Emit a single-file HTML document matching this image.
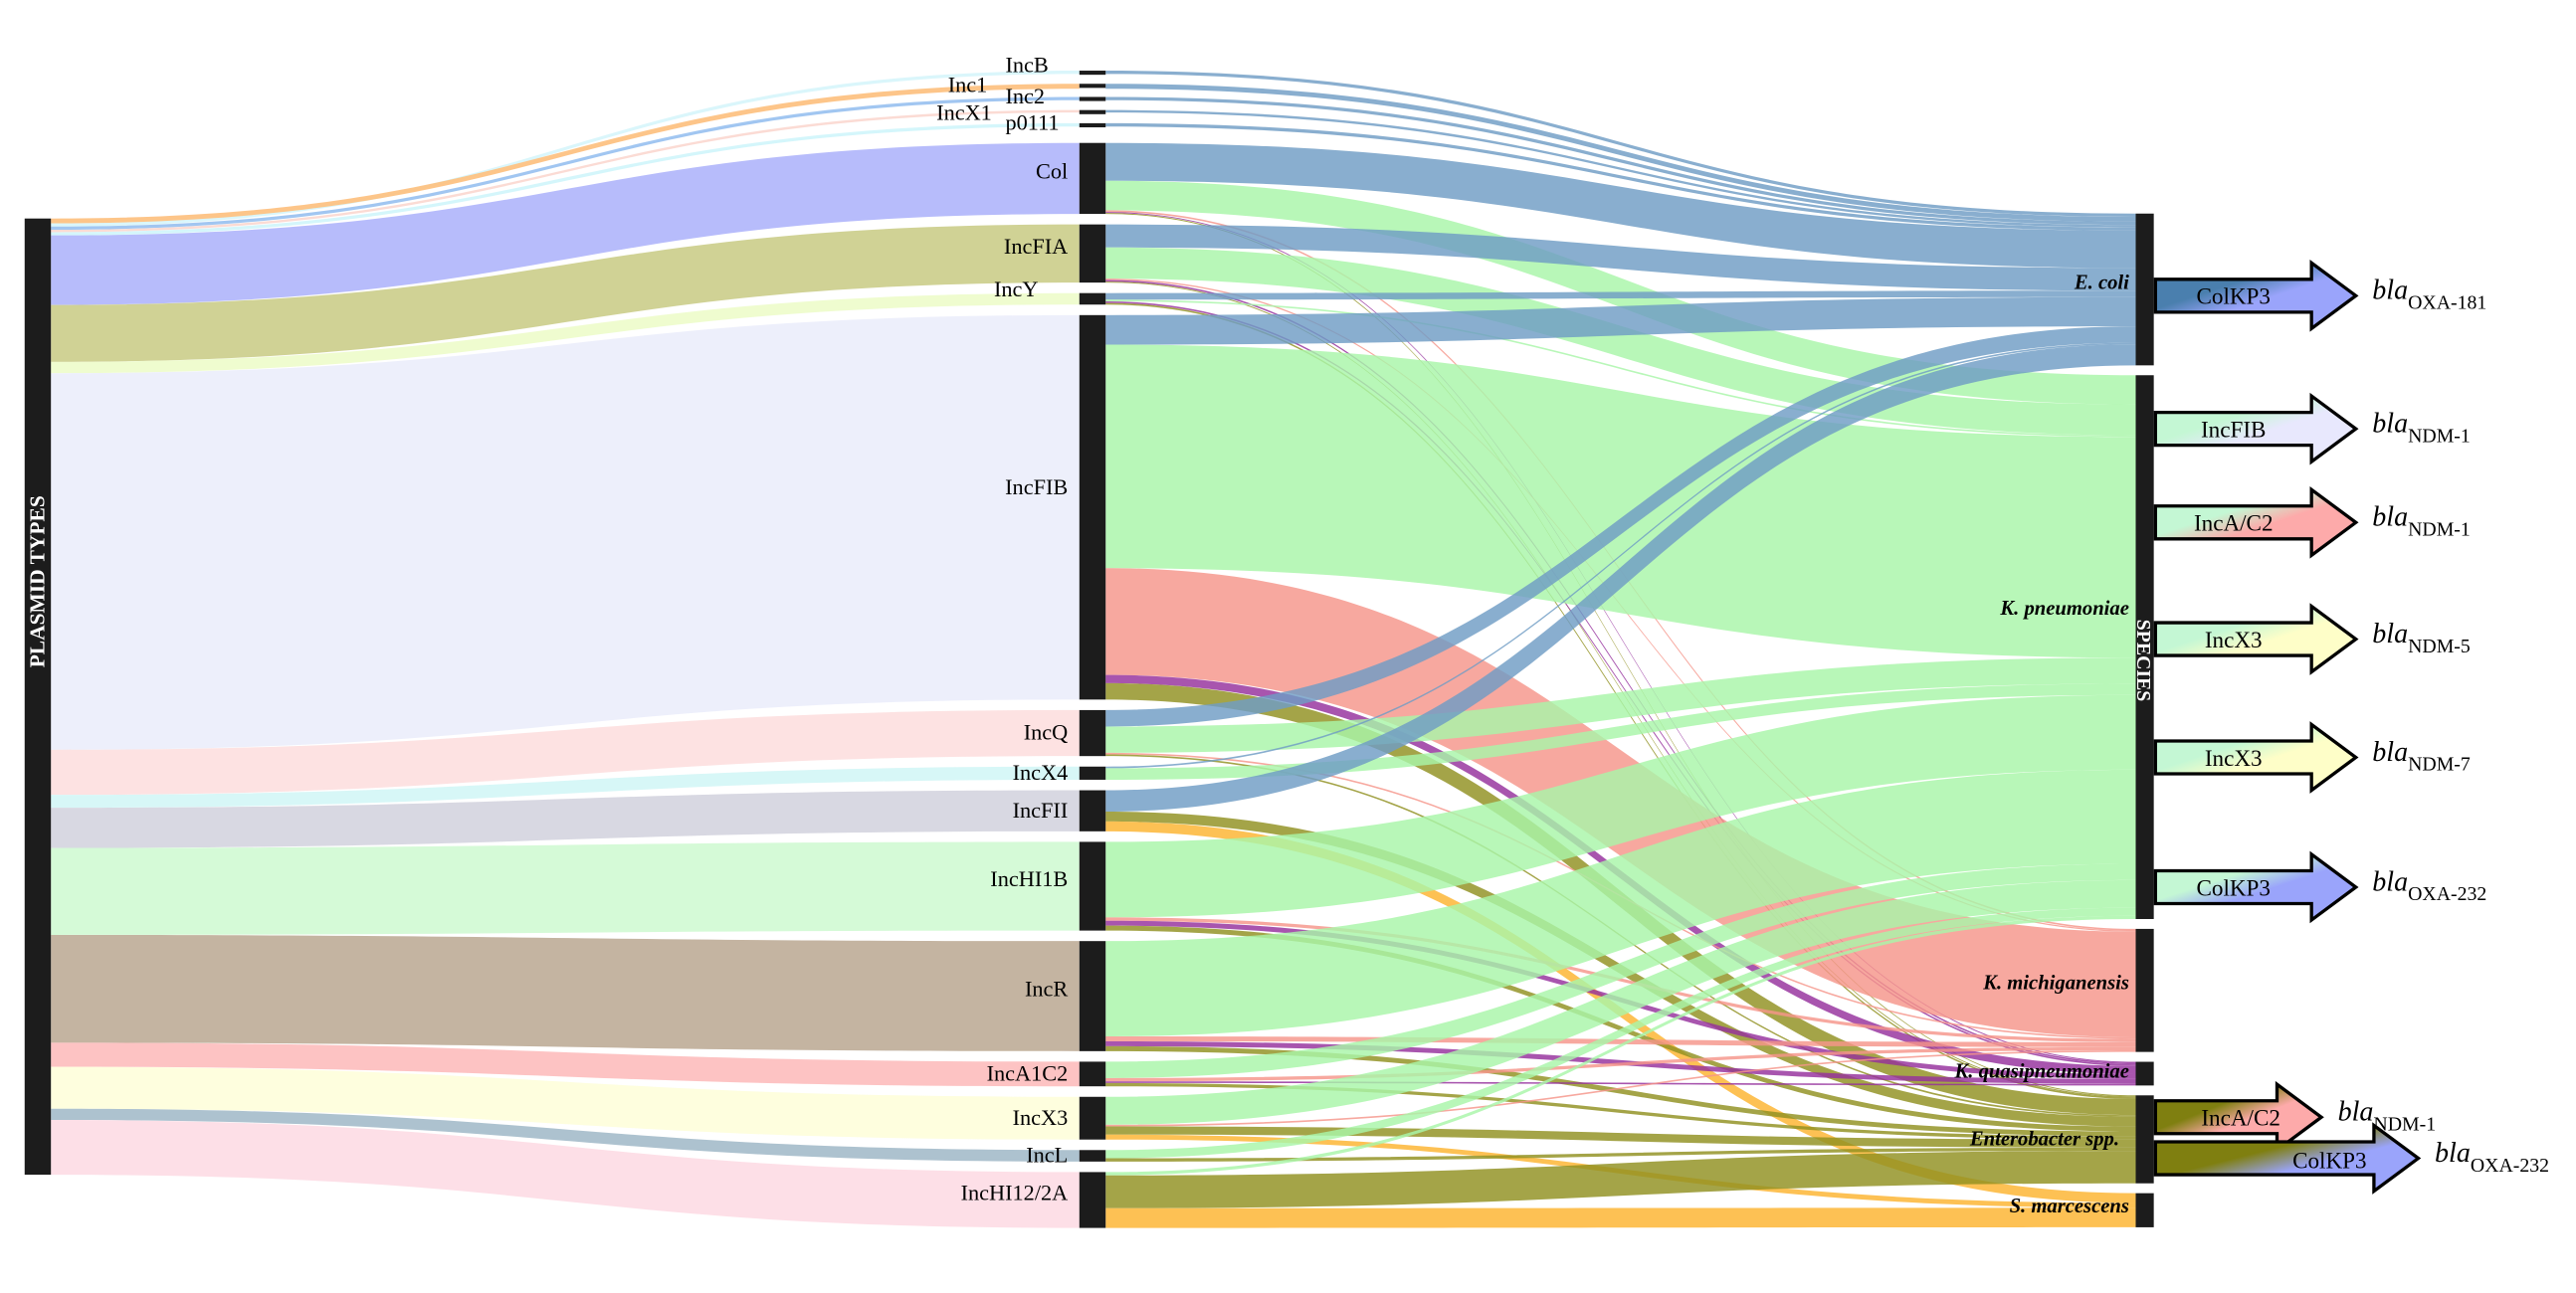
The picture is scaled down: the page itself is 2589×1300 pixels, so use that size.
<!DOCTYPE html>
<html><head><meta charset="utf-8"><style>
html,body{margin:0;padding:0;background:#fff;}
svg{display:block;font-family:"Liberation Serif",serif;}
</style></head><body>
<svg id="chart" width="2589" height="1300" viewBox="0 0 1568 787" preserveAspectRatio="none" xmlns="http://www.w3.org/2000/svg">
<defs>
<linearGradient id="gEcBlue" x1="0" y1="0" x2="1" y2="1"><stop offset="0.35" stop-color="#4a7fae"/><stop offset="0.55" stop-color="#9aa4fb"/></linearGradient>
<linearGradient id="gFib" x1="0" y1="0" x2="1" y2="1"><stop offset="0.35" stop-color="#c4f7d4"/><stop offset="0.55" stop-color="#e8e8fd"/></linearGradient>
<linearGradient id="gAC" x1="0" y1="0" x2="1" y2="1"><stop offset="0.35" stop-color="#c4f7d4"/><stop offset="0.55" stop-color="#fdaaaa"/></linearGradient>
<linearGradient id="gX3" x1="0" y1="0" x2="1" y2="1"><stop offset="0.35" stop-color="#c4f7d4"/><stop offset="0.55" stop-color="#fefec8"/></linearGradient>
<linearGradient id="gKcol" x1="0" y1="0" x2="1" y2="1"><stop offset="0.35" stop-color="#c4f7d4"/><stop offset="0.55" stop-color="#9aa4fb"/></linearGradient>
<linearGradient id="gEAC" x1="0" y1="0" x2="1" y2="1"><stop offset="0.35" stop-color="#7f7f10"/><stop offset="0.55" stop-color="#fdaaaa"/></linearGradient>
<linearGradient id="gECol" x1="0" y1="0" x2="1" y2="1"><stop offset="0.4" stop-color="#7f7f10"/><stop offset="0.6" stop-color="#9aa4fb"/></linearGradient>
</defs>
<g id="leftLinks"></g><g id="rightLinks"></g><g id="nodes"></g><g id="labels"></g><g id="genes"></g>
</svg>
<script>
const plasmids=["IncB","Inc1","Inc2","IncX1","p0111","Col","IncFIA","IncY","IncFIB","IncQ","IncX4","IncFII","IncHI1B","IncR","IncA1C2","IncX3","IncL","IncHI12/2A"];
const plasmidColors=["#d8f6fb","#fdc283","#9cc3f0","#fbd9d2","#d2f5fb","#b3b8fb","#cdd08f","#eefccc","#eceefb","#fde0e0","#d5f7f7","#d6d6e0","#d3fad5","#c1b09c","#fdc0c0","#fefedc","#a9bfcc","#fddde6"];
const species=["E. coli","K. pneumoniae","K. michiganensis","K. quasipneumoniae","Enterobacter spp.","S. marcescens"];
const speciesColors=["#6f9cc4","#a8f5a8","#f5958a","#952f9c","#909020","#fdb32e"];
// flows: source plasmid index, target species index, value
const flowSource=[0,1,2,3,4, 5,5,5,5,5, 6,6,6,6,6, 7,7,7,7, 8,8,8,8,8, 9,9,9,9, 10,10, 11,11,11, 12,12,12,12, 13,13,13,13, 14,14,14,14, 15,15,15,15, 16,16, 17,17,17];
const flowTarget=[0,0,0,0,0, 0,1,2,3,4, 0,1,2,3,4, 0,1,3,4, 0,1,2,3,4, 0,1,2,4, 0,1, 0,4,5, 1,2,3,4, 1,2,3,4, 1,2,3,4, 1,2,4,5, 1,4, 1,4,5];
const flowValue=[2,3,2,1.5,2, 23,18,1,0.6,0.6, 14,19,0.8,1,0.6, 4,1,1,1, 18,136,65,5,10, 10,16,1,1, 1,7, 13,6,6, 46,2,3,3, 58,3,3,3, 10,2,1,2, 17,1,5,3, 5,2, 2,20,12];

const NS="http://www.w3.org/2000/svg";
function mk(tag,attrs,parent){const e=document.createElementNS(NS,tag);for(const k in attrs)e.setAttribute(k,attrs[k]);parent.appendChild(e);return e;}
const X0=15,X0R=31,XM=657,XMR=673,XR=1300,XRR=1311;
const pTot=plasmids.map((p,i)=>flowValue.reduce((s,v,k)=>s+(flowSource[k]===i?v:0),0));
const sTot=species.map((p,i)=>flowValue.reduce((s,v,k)=>s+(flowTarget[k]===i?v:0),0));
const smallGap=[5,5,5,5,9];
let y=43;const pY=[];
plasmids.forEach((p,i)=>{pY.push(y);y+=Math.max(pTot[i],3)+(i<5?smallGap[i]:6.4);});
const sScale=(747-130-30)/sTot.reduce((a,b)=>a+b,0);
y=130;const sY=[];species.forEach((s,i)=>{sY.push(y);y+=sTot[i]*sScale+6;});
const lTop=133,lBot=715;const lScale=(lBot-lTop)/pTot.reduce((a,b)=>a+b,0);
const order=[1,0,2,3,4,5,6,7,8,9,10,11,12,13,14,15,16,17];
const lY=[];y=lTop;order.forEach(i=>{lY[i]=y;y+=pTot[i]*lScale;});
function ribbon(x1,y1a,y1b,x2,y2a,y2b){const m=(x1+x2)/2;
return `M${x1},${y1a} C${m},${y1a} ${m},${y2a} ${x2},${y2a} L${x2},${y2b} C${m},${y2b} ${m},${y1b} ${x1},${y1b} Z`;}
const gL=document.getElementById('leftLinks');
plasmids.forEach((p,i)=>{const h=pTot[i];
const el=mk('path',{d:ribbon(X0R,lY[i],lY[i]+h*lScale,XM,pY[i],pY[i]+h),fill:plasmidColors[i],'fill-opacity':0.95},gL);

});
const gR=document.getElementById('rightLinks');
const outOff=pY.slice();const inOff=sY.slice();
const idx=flowValue.map((v,k)=>k);
const outOrder=idx.slice().sort((a,b)=>flowSource[a]-flowSource[b]||flowTarget[a]-flowTarget[b]);
const yo={};outOrder.forEach(k=>{yo[k]=outOff[flowSource[k]];outOff[flowSource[k]]+=flowValue[k];});
const inOrder=idx.slice().sort((a,b)=>flowTarget[a]-flowTarget[b]||flowSource[a]-flowSource[b]);
const yi={};inOrder.forEach(k=>{yi[k]=inOff[flowTarget[k]];inOff[flowTarget[k]]+=flowValue[k]*sScale;});
idx.forEach(k=>{const v=flowValue[k];
const el=mk('path',{d:ribbon(XMR,yo[k],yo[k]+v,XR,yi[k],yi[k]+v*sScale),fill:speciesColors[flowTarget[k]],'fill-opacity':0.82},gR);

});
const gN=document.getElementById('nodes');const gT=document.getElementById('labels');
let e=mk('rect',{x:X0,y:lTop,width:X0R-X0,height:lBot-lTop,fill:'#1c1c1c'},gN);

e=mk('text',{x:0,y:0,transform:`translate(27,354) rotate(-90)`,'text-anchor':'middle','font-size':13,'font-weight':'bold',fill:'#fff'},gT);
e.textContent='PLASMID TYPES';
plasmids.forEach((p,i)=>{const h=Math.max(pTot[i],3);
const r=mk('rect',{x:XM,y:pY[i],width:XMR-XM,height:i<5?2.5:h,fill:'#1c1c1c'},gN);

let tx=650,ty=pY[i]+h/2+(h>30?0:4);
if(i===8)ty=pY[i]+109;
if(p==='IncY'){tx=632;ty=pY[i]+2;}
const t=mk('text',{x:tx,y:ty,'text-anchor':'end','font-size':13.5},gT);
if(i<5){t.setAttribute('text-anchor','start');t.setAttribute('x',[612,577,612,570,612][i]);t.setAttribute('y',pY[i]+[1,5,4,6,4][i]);}
t.textContent=p;});
const spLabY=[176,374,602,656,697,738];
species.forEach((s,i)=>{const h=sTot[i]*sScale;
const r=mk('rect',{x:XR,y:sY[i],width:XRR-XR,height:h,fill:'#1c1c1c'},gN);

const t=mk('text',{x:1296,y:spLabY[i],'text-anchor':'end','font-size':12.5,'font-weight':'bold','font-style':'italic'},gT);
if(i===4){t.setAttribute('x',1290);}
t.textContent=s;});
e=mk('text',{x:0,y:0,transform:'translate(1301,402) rotate(90)','text-anchor':'middle','font-size':12,'font-weight':'bold',fill:'#fff'},gT);
e.textContent='SPECIES';
const geneY=[180,261,318,389,461,540,680,705];
const geneTip=[1434,1434,1434,1434,1434,1434,1413,1472];
const geneLabel=["ColKP3","IncFIB","IncA/C2","IncX3","IncX3","ColKP3","IncA/C2","ColKP3"];
const geneFill=["gEcBlue","gFib","gAC","gX3","gX3","gKcol","gEAC","gECol"];
const geneSub=["OXA-181","NDM-1","NDM-1","NDM-5","NDM-7","OXA-232","NDM-1","OXA-232"];
const gG=document.getElementById('genes');
geneY.forEach((cy,i)=>{const tip=geneTip[i],hs=tip-27,x=1312;
const a=mk('path',{d:`M${x},${cy-10} L${hs},${cy-10} L${hs},${cy-20} L${tip},${cy} L${hs},${cy+20} L${hs},${cy+10} L${x},${cy+10} Z`,fill:`url(#${geneFill[i]})`,stroke:'#000','stroke-width':2},gG);

const t=mk('text',{x:(x+hs)/2+(i>=6?15:0),y:cy+5,'text-anchor':'middle','font-size':14},gG);
if(i===7){t.setAttribute('x',1418);t.setAttribute('y',cy+6);}
t.textContent=geneLabel[i];
const b=mk('text',{x:tip+10,y:cy+2,'font-size':17},gG);

const s1=mk('tspan',{'font-style':'italic'},b);s1.textContent='bla';
const s2=mk('tspan',{'font-size':12,dy:6},b);s2.textContent=geneSub[i];});
</script>
</body></html>
